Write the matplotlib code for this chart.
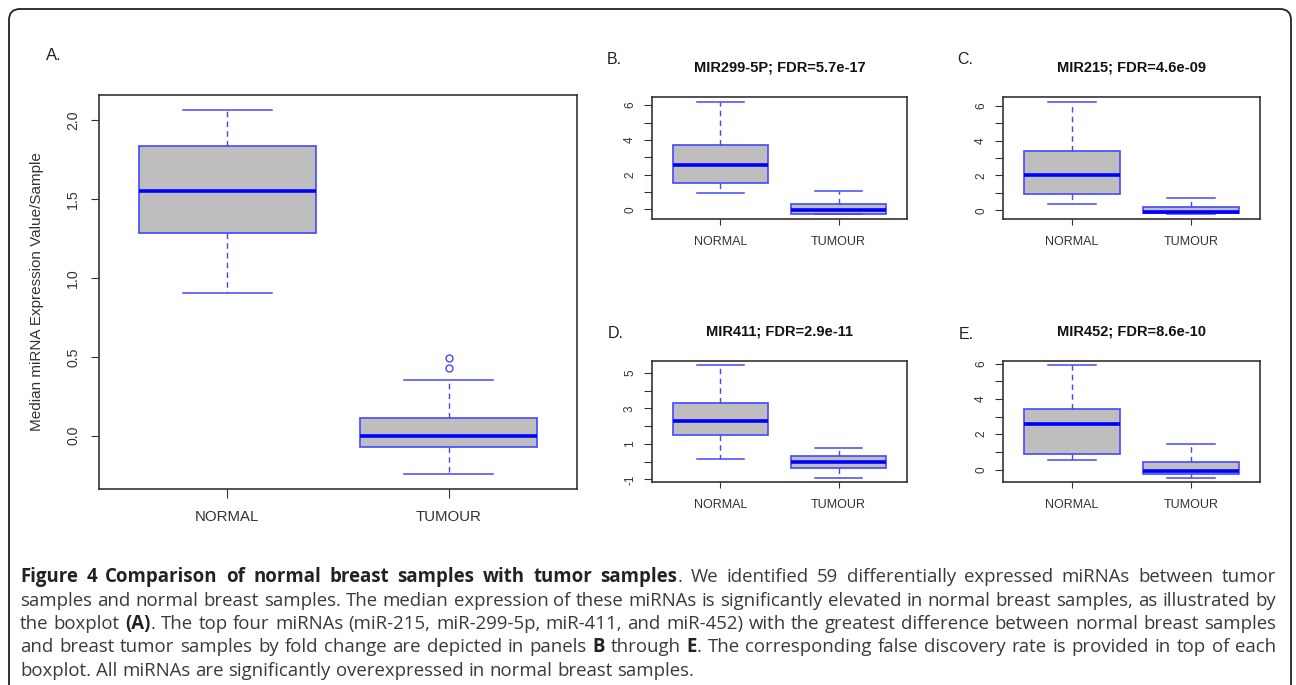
import re
import matplotlib
matplotlib.use('Agg')
import matplotlib.pyplot as plt
from matplotlib.patches import FancyBboxPatch

W, H = 1296, 685

# box statistics: whislo, q1, median, q3, whishi
groups = ['NORMAL', 'TUMOUR']

a_normal = [0.906, 1.287, 1.553, 1.834, 2.068]
a_tumour = [-0.245, -0.074, 0.0, 0.114, 0.355]
a_tumour_out = [0.427, 0.494]

b_normal = [0.93, 1.51, 2.58, 3.71, 6.21]
b_tumour = [-0.30, -0.25, -0.04, 0.29, 1.03]

c_normal = [0.35, 0.93, 2.00, 3.42, 6.23]
c_tumour = [-0.23, -0.15, -0.06, 0.19, 0.74]

d_normal = [0.15, 1.49, 2.30, 3.30, 5.41]
d_tumour = [-0.89, -0.34, 0.00, 0.32, 0.79]

e_normal = [0.53, 0.89, 2.58, 3.41, 5.89]
e_tumour = [-0.45, -0.26, -0.06, 0.44, 1.42]

titles = ['MIR299-5P; FDR=5.7e-17', 'MIR215; FDR=4.6e-09',
          'MIR411; FDR=2.9e-11', 'MIR452; FDR=8.6e-10']

caption = [
    '**Figure 4 Comparison of normal breast samples with tumor samples**. We identified 59 differentially expressed miRNAs between tumor',
    'samples and normal breast samples. The median expression of these miRNAs is significantly elevated in normal breast samples, as illustrated by',
    'the boxplot **(A)**. The top four miRNAs (miR-215, miR-299-5p, miR-411, and miR-452) with the greatest difference between normal breast samples',
    'and breast tumor samples by fold change are depicted in panels **B** through **E**. The corresponding false discovery rate is provided in top of each',
    'boxplot. All miRNAs are significantly overexpressed in normal breast samples.',
]

plt.rcParams['font.family'] = ['Liberation Sans', 'DejaVu Sans']

fig = plt.figure(figsize=(W / 100, H / 100), dpi=100)

BLUE = '#4646ff'
DARK = '#333333'


def px_axes(l, t, r, b):
    return fig.add_axes([l / W, 1 - b / H, (r - l) / W, (b - t) / H])


def stats_of(vals, label, fliers=()):
    lo, q1, med, q3, hi = vals
    return dict(whislo=lo, q1=q1, med=med, q3=q3, whishi=hi,
                fliers=list(fliers), label=label)


def draw_box(ax, normal, tumour, tumour_out=(), big=False):
    st = [stats_of(normal, groups[0]), stats_of(tumour, groups[1], tumour_out)]
    ax.bxp(st, positions=[1, 2], widths=0.8, capwidths=0.4, patch_artist=True,
           boxprops=dict(facecolor='#bebebe', edgecolor=BLUE, lw=1.2),
           medianprops=dict(color='#0000ff', lw=2.6, solid_capstyle='butt'),
           whiskerprops=dict(color=BLUE, lw=1, ls=(0, (4, 3))),
           capprops=dict(color=BLUE, lw=1.1),
           flierprops=dict(marker='o', mfc='none', mec=BLUE, ms=5, mew=1))
    # R style limits: 4% padding on data range
    allv = list(normal) + list(tumour) + list(tumour_out)
    lo, hi = min(allv), max(allv)
    pad = (hi - lo) * 0.04
    ax.set_ylim(lo - pad, hi + pad)
    ax.set_xlim(0.42, 2.58)
    for s in ax.spines.values():
        s.set_color(DARK)
        s.set_linewidth(1.2)
    if big:
        ax.tick_params(axis='x', length=6.7, pad=8.5, labelsize=10.8,
                       color=DARK, labelcolor=DARK)
        ax.tick_params(axis='y', length=5.6, pad=8, labelsize=10.2,
                       color=DARK, labelcolor=DARK)
    else:
        ax.tick_params(axis='x', length=4.3, pad=8, labelsize=9,
                       color=DARK, labelcolor=DARK)
        ax.tick_params(axis='y', length=5.5, pad=6, labelsize=8.5,
                       color=DARK, labelcolor=DARK)


# panel A
axA = px_axes(99, 95, 577, 489)
draw_box(axA, a_normal, a_tumour, a_tumour_out, big=True)
axA.set_yticks([0.0, 0.5, 1.0, 1.5, 2.0])
axA.set_yticklabels(['0.0', '0.5', '1.0', '1.5', '2.0'], rotation=90, va='center')
axA.set_ylabel('Median miRNA Expression Value/Sample', fontsize=11, color=DARK)
axA.yaxis.set_label_coords(-0.115, 0.5)

small = [
    (px_axes(652, 97, 907, 219), b_normal, b_tumour, range(0, 7), [0, 2, 4, 6], 67),
    (px_axes(1003, 97, 1260, 219), c_normal, c_tumour, range(0, 7), [0, 2, 4, 6], 67),
    (px_axes(652, 361, 907, 482), d_normal, d_tumour, range(-1, 6), [-1, 1, 3, 5], 332),
    (px_axes(1003, 361, 1260, 482), e_normal, e_tumour, range(0, 7), [0, 2, 4, 6], 332),
]
for (ax, nrm, tum, ticks, shown, ty), title in zip(small, titles):
    draw_box(ax, nrm, tum)
    ax.set_yticks(list(ticks))
    ax.set_yticklabels([str(t) if t in shown else '' for t in ticks],
                       rotation=90, va='center')
    fig.text(0.5 * (ax.get_position().x0 + ax.get_position().x1), 1 - ty / H,
             title, ha='center', va='center', fontsize=10.5, fontweight='bold',
             color='#111111')

# panel letters
for letter, x, y, fs in [('A.', 46, 55, 12), ('B.', 607, 60, 11.5), ('C.', 957, 60, 11.5),
                         ('D.', 608, 333, 11.5), ('E.', 959, 335, 11.5)]:
    fig.text(x / W, 1 - y / H, letter, ha='left', va='center', fontsize=fs,
             color='#222222')

# rounded frame
frame = FancyBboxPatch((0.09, -0.2), 12.82, 6.96,
                       boxstyle='round,pad=0,rounding_size=0.11',
                       transform=fig.dpi_scale_trans, fill=False,
                       ec='#222222', lw=1.3)
fig.add_artist(frame)


# caption, justified word by word
def parse(line):
    words = [[]]
    bold = False
    for chunk in re.split(r'(\*\*)', line):
        if chunk == '**':
            bold = not bold
            continue
        parts = chunk.split(' ')
        for i, p in enumerate(parts):
            if i > 0:
                words.append([])
            if p:
                words[-1].append((p, bold))
    return [w for w in words if w]


renderer = fig.canvas.get_renderer()
cap_left, cap_right = 20, 1276


def space_width(fs):
    p1 = fig.text(0, 0, 'a a', fontsize=fs, family='Open Sans')
    p2 = fig.text(0, 0, 'aa', fontsize=fs, family='Open Sans')
    w = p1.get_window_extent(renderer).width - p2.get_window_extent(renderer).width
    p1.remove()
    p2.remove()
    return w


def make_line(line, fs, y):
    arts = []
    for w in parse(line):
        pieces = []
        for txt, bold in w:
            t = fig.text(0, y, txt, fontsize=fs, family='Open Sans',
                         fontweight='bold' if bold else 'normal',
                         color='#222222' if bold else '#3a3a3a',
                         ha='left', va='center')
            pieces.append((t, t.get_window_extent(renderer).width))
        arts.append(pieces)
    return arts


# pick the size so the widest justified line just fits with normal spaces
base = 12
sw = space_width(base)
natural = []
for line in caption[:-1]:
    arts = make_line(line, base, 0)
    natural.append(sum(wd for p in arts for _, wd in p) + sw * (len(arts) - 1))
    for p in arts:
        for t, _ in p:
            t.remove()
cap_fs = base * (cap_right - cap_left) / max(natural) * 0.995
sw = space_width(cap_fs)

y0, dy = 577, 23.5
for li, line in enumerate(caption):
    y = 1 - (y0 + li * dy) / H
    arts = make_line(line, cap_fs, y)
    widths = [sum(wd for _, wd in p) for p in arts]
    if li < len(caption) - 1:
        gap = (cap_right - cap_left - sum(widths)) / (len(arts) - 1)
    else:
        gap = sw
    x = cap_left
    for pieces, wsum in zip(arts, widths):
        xx = x
        for t, wd in pieces:
            t.set_x(xx / W)
            xx += wd
        x += wsum + gap

fig.savefig('out.png', dpi=100)
